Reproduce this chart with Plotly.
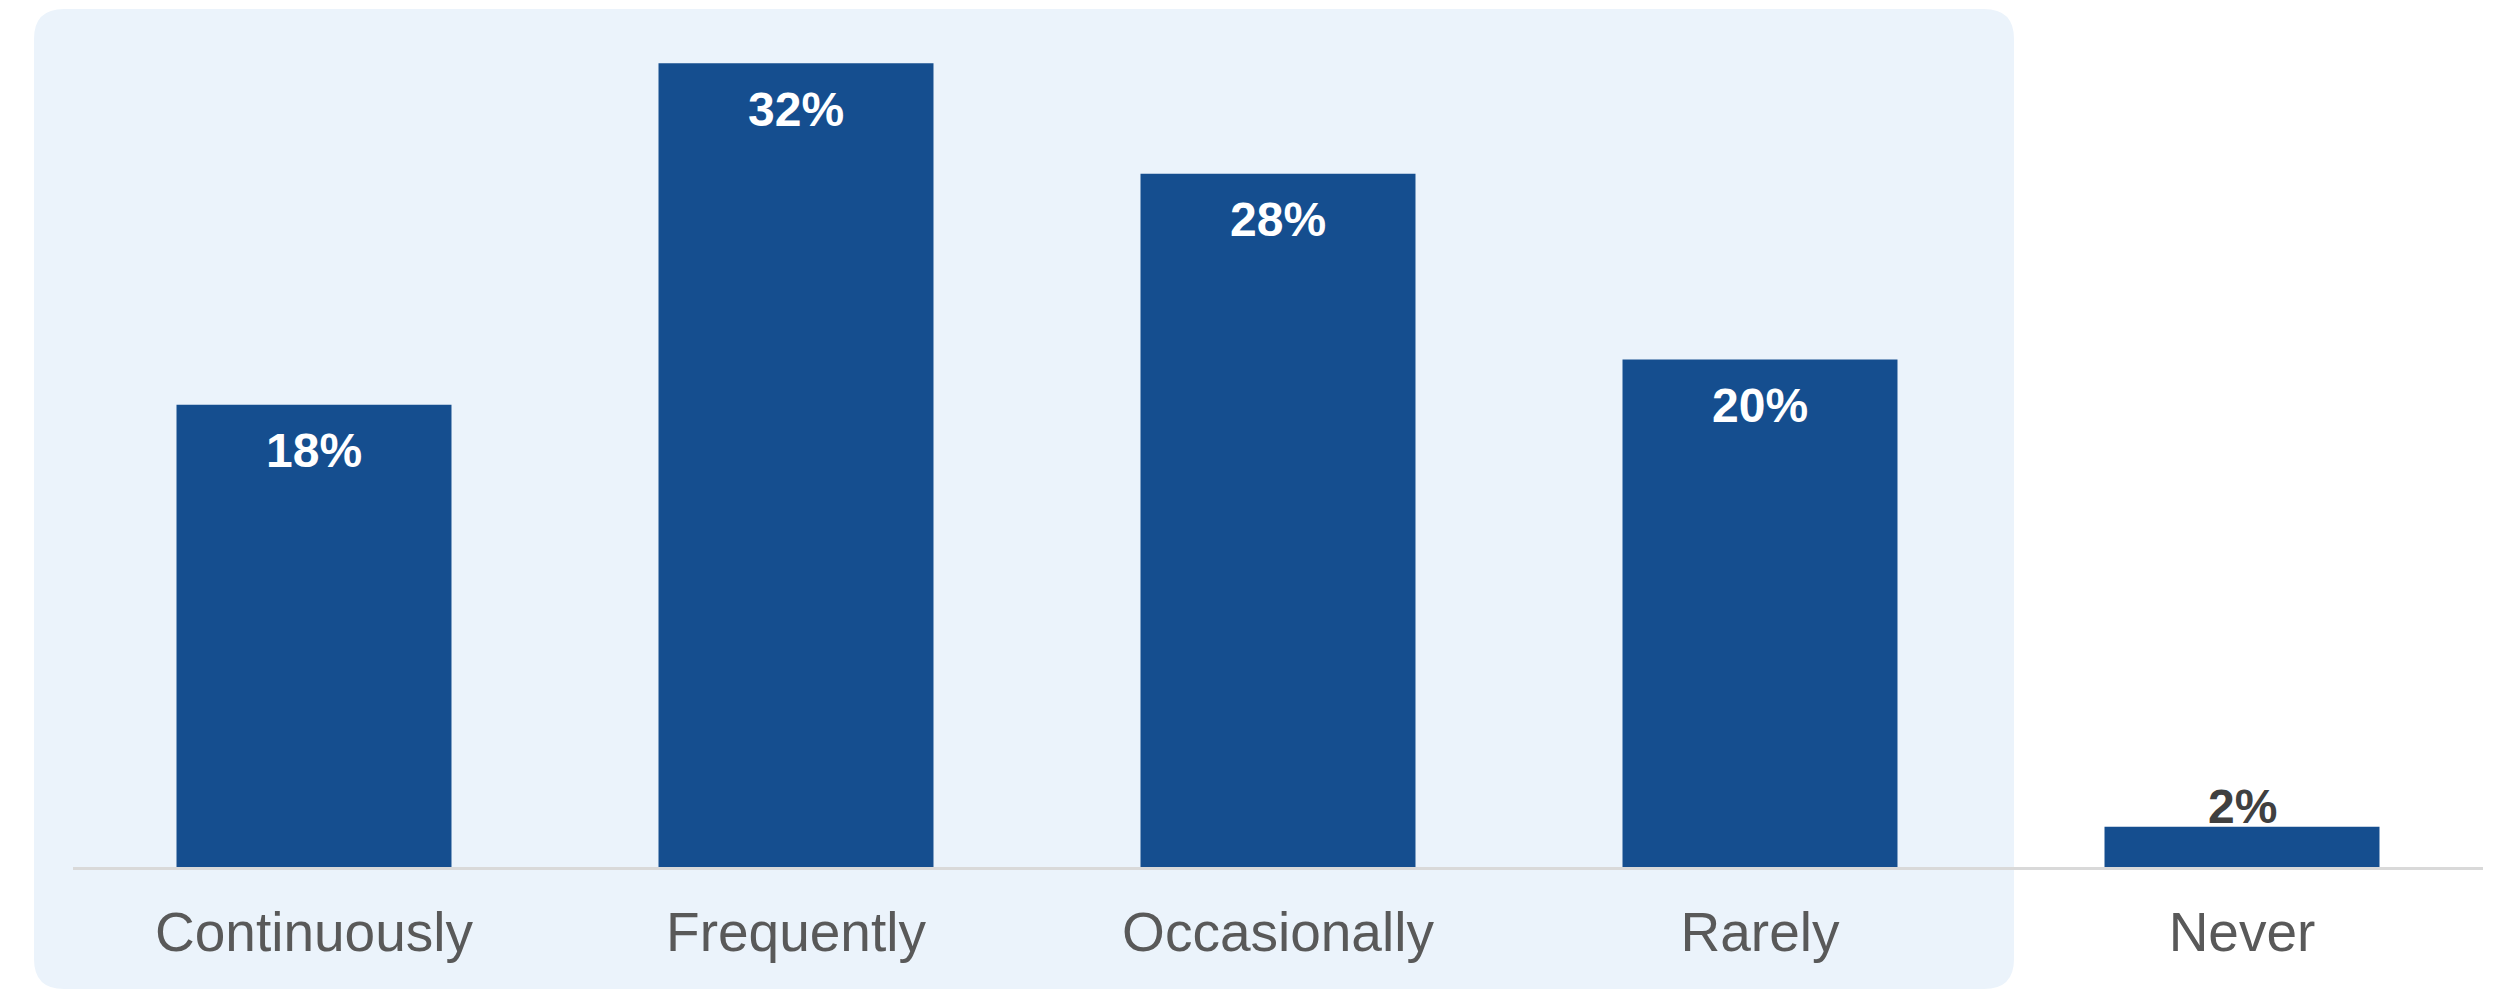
import plotly.graph_objects as go

categories = ["Continuously", "Frequently", "Occasionally", "Rarely", "Never"]
values = [18.4, 32.0, 27.6, 20.2, 1.6]
labels = ["18%", "32%", "28%", "20%", "2%"]
inside = [True, True, True, True, False]

W, H = 2495, 991
ML, MR, MT, MB = 73, 12, 13, 124
pw, ph = W - ML - MR, H - MT - MB

BAR = "#154E8F"
BG = "#EBF3FB"

fig = go.Figure(go.Bar(
    x=categories, y=values, marker=dict(color=BAR, line=dict(width=0)),
    hoverinfo="skip",
))

# annotations for value labels
for c, v, t, ins in zip(categories, values, labels, inside):
    fig.add_annotation(
        x=c, y=v, text=f"<b>{t}</b>", showarrow=False,
        yanchor="middle", yshift=-46 if ins else 20,
        font=dict(size=48, color="white" if ins else "#404040",
                  family="Liberation Sans, Arial, sans-serif"),
    )

# rounded background panel (pixel positions -> paper coords)
def px(xp):
    return (xp - ML) / pw

def py(yp):
    return (H - MB - yp) / ph

L, R, T, B, r = 34, 2014, 9, 989, 30
path = (
    f"M {px(L + r)},{py(T)} L {px(R - r)},{py(T)} "
    f"Q {px(R)},{py(T)} {px(R)},{py(T + r)} "
    f"L {px(R)},{py(B - r)} Q {px(R)},{py(B)} {px(R - r)},{py(B)} "
    f"L {px(L + r)},{py(B)} Q {px(L)},{py(B)} {px(L)},{py(B - r)} "
    f"L {px(L)},{py(T + r)} Q {px(L)},{py(T)} {px(L + r)},{py(T)} Z"
)
fig.add_shape(type="path", path=path, xref="paper", yref="paper",
              fillcolor=BG, line=dict(width=0), layer="below")

fig.update_layout(
    width=W, height=H,
    margin=dict(l=ML, r=MR, t=MT, b=MB, pad=0),
    paper_bgcolor="white", plot_bgcolor="rgba(0,0,0,0)",
    bargap=0.4295, showlegend=False,
    font=dict(family="Liberation Sans, Arial, sans-serif"),
    xaxis=dict(
        showline=True, linecolor="#D9D9D9", linewidth=3,
        showgrid=False, zeroline=False,
        ticks="outside", ticklen=15, tickcolor="rgba(0,0,0,0)",
        tickfont=dict(size=55, color="#595959"),
        range=[-0.5, 4.5],
    ),
    yaxis=dict(visible=False, range=[0, 34], showgrid=False, zeroline=False),
)

fig.write_html("out.html")
